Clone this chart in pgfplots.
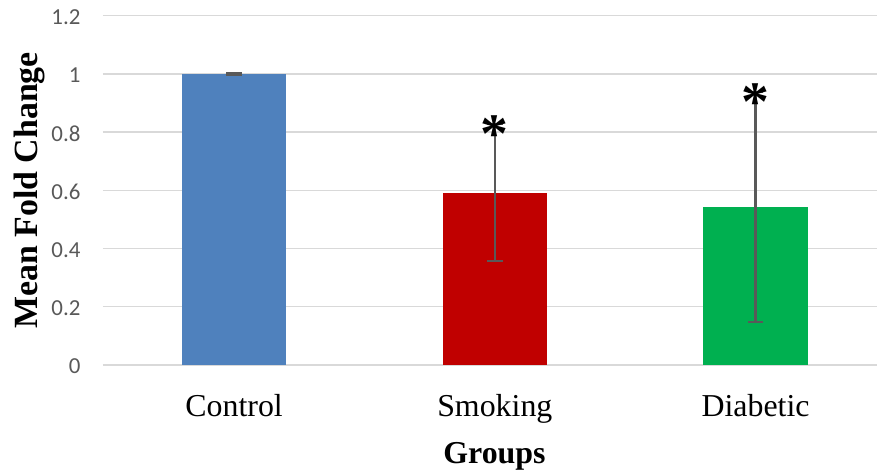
\documentclass[border=0pt]{standalone}
\usepackage{fontspec}
\setmainfont{Liberation Serif}
\newfontfamily\carlito{Carlito}
\usepackage{pgfplots}
\pgfplotsset{compat=1.18}
\definecolor{ctrl}{HTML}{4F81BD}
\definecolor{smok}{HTML}{C00000}
\definecolor{diab}{HTML}{00B050}
\definecolor{gridc}{HTML}{D9D9D9}
\definecolor{errc}{HTML}{595959}
\definecolor{tickc}{HTML}{595959}
\begin{document}
\begin{tikzpicture}
\begin{axis}[
  at={(0,0)}, anchor=south west,
  scale only axis, width=774bp, height=349.3bp,
  xmin=-0.503, xmax=2.466, ymin=0, ymax=1.2,
  ytick={0,0.2,0.4,0.6,0.8,1,1.2},
  yticklabels={0,0.2,0.4,0.6,0.8,1,1.2},
  xtick={0,1,2}, xticklabels={Control,Smoking,Diabetic},
  major tick length=0pt,
  axis line style={draw=none},
  ymajorgrids, grid style={draw=gridc, line width=1.3bp},
  /pgf/number format/assume math mode=true,
  yticklabel style={anchor=east, inner sep=0pt, xshift=-22.3bp, yshift=-1.5bp, text=tickc, font=\carlito\fontsize{23}{23}\selectfont},
  xticklabel style={anchor=base, inner sep=0pt, yshift=-51bp, font=\fontsize{32}{32}\selectfont},
  xlabel={\bfseries Groups},
  every axis x label/.style={at={(axis description cs:0.5058,-0.2806)}, anchor=base, inner sep=0pt, font=\fontsize{32}{32}\selectfont},
  ylabel={\bfseries Mean Fold Change},
  every axis y label/.style={at={(axis description cs:-0.0840,0.5)}, rotate=90, anchor=base, inner sep=0pt, font=\fontsize{34}{34}\selectfont},
  errstyle/.style={error bars/.cd, y dir=both, y explicit,
    error bar style={draw=errc, line width=2.2bp},
    error mark options={draw=errc, line width=2.2bp, mark size=7.8bp, rotate=90}},
]
\addplot[ybar, bar width=0.4, bar shift=0pt, fill=ctrl, draw=none, errstyle]
  coordinates {(0,1) +- (0,0.003)};
\addplot[ybar, bar width=0.4, bar shift=0pt, fill=smok, draw=none, errstyle]
  coordinates {(1,0.592) +- (0,0.236)};
\addplot[ybar, bar width=0.4, bar shift=0pt, fill=diab, draw=none, errstyle]
  coordinates {(2,0.544) +- (0,0.395)};
\addplot[draw=none, mark=none, nodes near coords={\bfseries *},
  every node near coord/.style={anchor=north, inner sep=0pt, yshift=11bp, font=\fontsize{56}{56}\selectfont, text=black}]
  coordinates {(1,0.819) (2,0.931)};
\end{axis}
\pgfresetboundingbox
\path[use as bounding box] (-103bp,-110bp) rectangle (774bp,365bp);
\end{tikzpicture}
\end{document}
